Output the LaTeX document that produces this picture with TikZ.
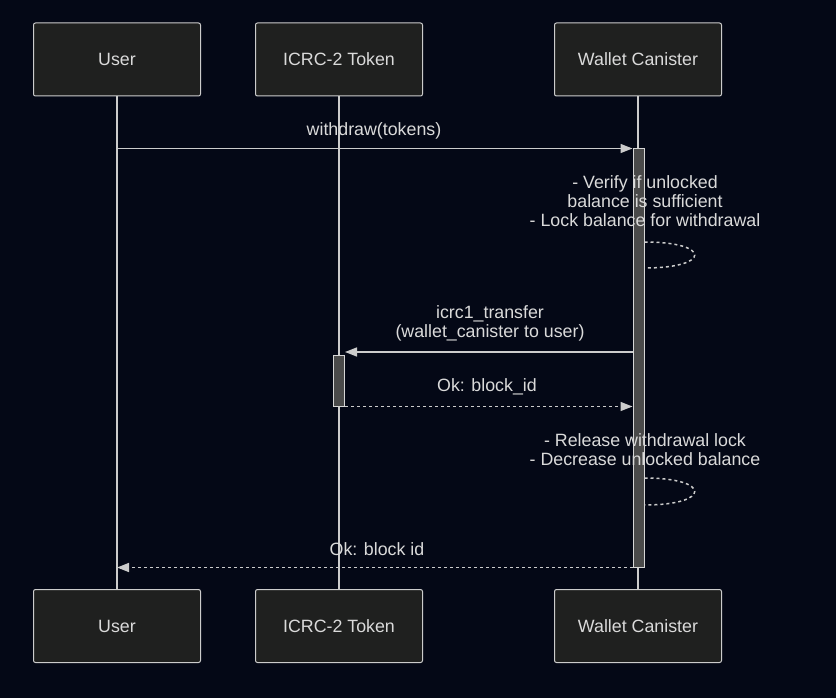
\documentclass[tikz,border=0pt]{standalone}
\usepackage{fontspec}
\setmainfont{Liberation Sans}
\usetikzlibrary{arrows.meta,positioning,calc}
\definecolor{bg}{HTML}{040816}
\definecolor{boxfill}{HTML}{1F201F}
\definecolor{line}{HTML}{CCCCCC}
\definecolor{txt}{HTML}{DADADA}
\definecolor{barfill}{HTML}{4A4A4A}
\tikzset{
 actor/.style={draw=line,fill=boxfill,rounded corners=2pt,line width=1pt,
  minimum width=167pt,minimum height=73pt,text=txt,inner sep=0pt},
 life/.style={draw=line,line width=1.5pt},
 actbar/.style={draw=line!80,fill=barfill,line width=1pt,minimum width=11pt,inner sep=0pt},
 msg/.style={draw=line,line width=1.5pt,-{Triangle[length=12pt,width=9pt]}},
 reply/.style={msg,dash pattern=on 3pt off 3pt},
 selfloop/.style={draw=line,line width=1.5pt,dash pattern=on 3pt off 3pt},
 lbl/.style={text=txt,align=center,inner sep=0pt}
}
\begin{document}
\begin{tikzpicture}[x=1pt,y=-1pt,font=\fontsize{17.8}{19}\selectfont]
\fill[bg] (0,0) rectangle (836,698);
\useasboundingbox (0,0) rectangle (836,698);
% participants and lifelines
\foreach \n/\x/\t in {user/117/User,tok/339/ICRC-2 Token,wal/638/Wallet Canister}{
 \node[actor] (\n top) at (\x,59.5) {\t};
 \node[actor] (\n bot) at (\x,626) {\t};
 \draw[life] (\n top) -- (\n bot);
}
% activations
\node[actbar,minimum height=418pt] (walact) at (638.5,358) {};
\node[actbar,minimum height=51pt] (tokact) at (339,380.5) {};
% withdraw
\node[lbl] (withdraw) at (374,130.5) {withdraw(tokens)};
\draw[msg] (usertop |- walact.north) -- (walact.north west);
\node[lbl] (note1) at (645,201.5) {- Verify if unlocked\\balance is sufficient\\- Lock balance for withdrawal};
\coordinate (l1a) at (walact.east |- 0,242);
\coordinate (l1b) at (walact.east |- 0,268);
\draw[selfloop] (l1a) .. controls ($(l1a)+(67,0)$) and ($(l1b)+(67,0)$) .. (l1b);
% transfer
\node[lbl] (transfer) at (490,323) {icrc1\_transfer\\(wallet\_canister to user)};
\coordinate (t1) at (walact.west |- 0,352);
\draw[msg] (t1) -- (tokact.east |- t1);
\node[lbl] (okblk) at (487,386.5) {Ok: block\_id};
\draw[reply] (tokact.south east) -- (walact.west |- tokact.south);
\node[lbl] (note2) at (645,450) {- Release withdrawal lock\\- Decrease unlocked balance};
\coordinate (l2a) at (walact.east |- 0,478);
\coordinate (l2b) at (walact.east |- 0,505);
\draw[selfloop] (l2a) .. controls ($(l2a)+(67,0)$) and ($(l2b)+(67,0)$) .. (l2b);
% final reply
\node[lbl] (okid) at (377,549.5) {Ok: block id};
\draw[reply] (walact.south west) -- (usertop |- walact.south);
\end{tikzpicture}
\end{document}
